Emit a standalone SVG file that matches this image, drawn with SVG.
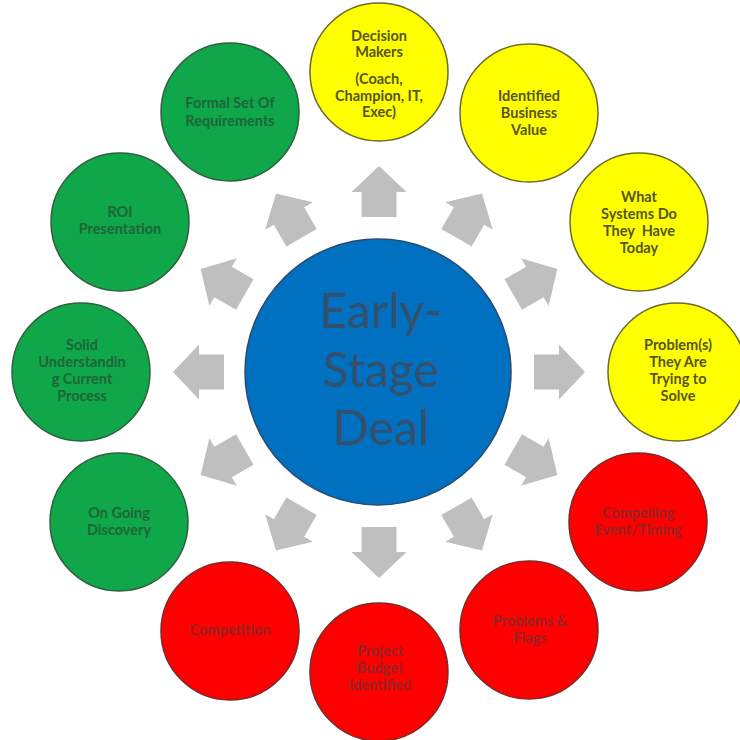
<svg xmlns="http://www.w3.org/2000/svg" width="740" height="740" viewBox="0 0 740 740">
  <style>
    .node circle { stroke-width: 1.5; }
    .y circle { fill: #FFFF00; stroke: #6b6b2a; }
    .g circle { fill: #10A64A; stroke: #2f5f3c; }
    .r circle { fill: #FF0000; stroke: #7a2a2a; }
    .node text { font-family: Lato, "Open Sans", "Liberation Sans", sans-serif; font-weight: bold; font-size: 14.5px; text-anchor: middle; }
    .y text { fill: #55551c; }
    .g text { fill: #1d6636; }
    .r text { fill: #922424; }
    .hub circle { fill: #0070C0; stroke: #2a4a70; stroke-width: 1.5; }
    .hub text { font-family: Lato, "Open Sans", "Liberation Sans", sans-serif; font-size: 48px; fill: #34506f; text-anchor: middle; }
    .arrow { fill: #BFBFBF; }
  </style>
  <defs>
    <!-- block arrow pointing up, positioned relative to the hub centre -->
    <path id="blockArrow" d="M -17.5,-155 L -17.5,-180 L -27.5,-180 L 0,-206 L 27.5,-180 L 17.5,-180 L 17.5,-155 Z"/>
  </defs>
  <rect width="740" height="740" fill="#ffffff"/>

  <!-- connectors: twelve radial arrows -->
  <g id="connectors" class="arrow" transform="translate(379,372)">
    <use href="#blockArrow" transform="rotate(0)"/>
    <use href="#blockArrow" transform="rotate(30)"/>
    <use href="#blockArrow" transform="rotate(60)"/>
    <use href="#blockArrow" transform="rotate(90)"/>
    <use href="#blockArrow" transform="rotate(120)"/>
    <use href="#blockArrow" transform="rotate(150)"/>
    <use href="#blockArrow" transform="rotate(180)"/>
    <use href="#blockArrow" transform="rotate(210)"/>
    <use href="#blockArrow" transform="rotate(240)"/>
    <use href="#blockArrow" transform="rotate(270)"/>
    <use href="#blockArrow" transform="rotate(300)"/>
    <use href="#blockArrow" transform="rotate(330)"/>
  </g>

  <!-- hub -->
  <g id="hub" class="hub">
    <circle cx="378" cy="372" r="133"/>
    <text x="381" y="328">Early-</text>
    <text x="381" y="387">Stage</text>
    <text x="381" y="445">Deal</text>
  </g>

  <!-- yellow nodes -->
  <g id="decision-makers" class="node y">
    <circle cx="379" cy="72" r="69"/>
    <text x="379" y="41">Decision</text>
    <text x="379" y="57">Makers</text>
    <text x="379" y="84">(Coach,</text>
    <text x="379" y="101">Champion, IT,</text>
    <text x="379" y="117">Exec)</text>
  </g>
  <g id="business-value" class="node y">
    <circle cx="529" cy="113" r="69"/>
    <text x="529" y="101">Identified</text>
    <text x="529" y="118">Business</text>
    <text x="529" y="135">Value</text>
  </g>
  <g id="systems-today" class="node y">
    <circle cx="639" cy="222" r="69"/>
    <text x="639" y="202">What</text>
    <text x="639" y="219">Systems Do</text>
    <text x="639" y="236" xml:space="preserve">They  Have</text>
    <text x="639" y="253">Today</text>
  </g>
  <g id="problems-to-solve" class="node y">
    <circle cx="677" cy="372" r="69"/>
    <text x="678" y="350">Problem(s)</text>
    <text x="678" y="367">They Are</text>
    <text x="678" y="384">Trying to</text>
    <text x="678" y="401">Solve</text>
  </g>

  <!-- red nodes -->
  <g id="compelling-event" class="node r">
    <circle cx="638" cy="522" r="69"/>
    <text x="638" y="518">Compelling</text>
    <text x="638" y="535">Event/Timing</text>
  </g>
  <g id="problems-flags" class="node r">
    <circle cx="529" cy="630" r="69"/>
    <text x="530" y="626">Problems &amp;</text>
    <text x="530" y="643">Flags</text>
  </g>
  <g id="project-budget" class="node r">
    <circle cx="379" cy="672" r="69"/>
    <text x="380" y="656">Project</text>
    <text x="380" y="673">Budget</text>
    <text x="380" y="690">Identified</text>
  </g>
  <g id="competition" class="node r">
    <circle cx="230" cy="631" r="69"/>
    <text x="230" y="635">Competition</text>
  </g>

  <!-- green nodes -->
  <g id="ongoing-discovery" class="node g">
    <circle cx="119" cy="522" r="69"/>
    <text x="119" y="518">On Going</text>
    <text x="119" y="535">Discovery</text>
  </g>
  <g id="current-process" class="node g">
    <circle cx="81" cy="372" r="69"/>
    <text x="82" y="350">Solid</text>
    <text x="82" y="367">Understandin</text>
    <text x="82" y="384">g Current</text>
    <text x="82" y="401">Process</text>
  </g>
  <g id="roi-presentation" class="node g">
    <circle cx="120" cy="222" r="69"/>
    <text x="120" y="217">ROI</text>
    <text x="120" y="234">Presentation</text>
  </g>
  <g id="formal-requirements" class="node g">
    <circle cx="230" cy="112" r="69"/>
    <text x="230" y="108">Formal Set Of</text>
    <text x="230" y="126">Requirements</text>
  </g>
</svg>
